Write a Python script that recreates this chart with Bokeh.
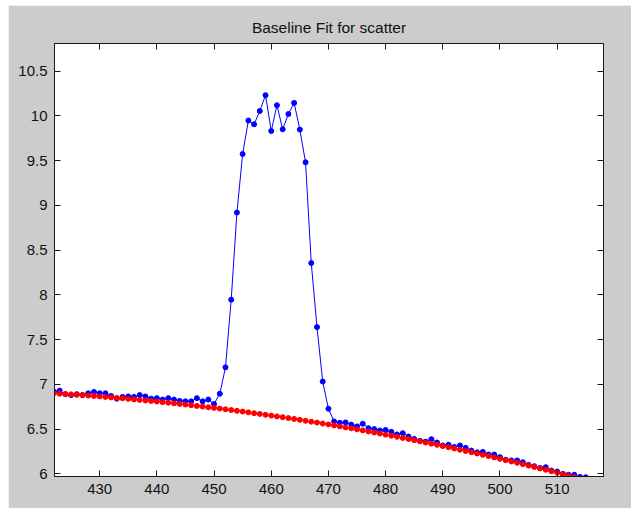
from bokeh.plotting import figure
from bokeh.models import LinearAxis, Range1d, FixedTicker, Title
from bokeh.embed import file_html
from bokeh.resources import INLINE

title_text = "Baseline Fit for scatter"

x_scatter = list(range(422, 516))
y_scatter = [
    6.92, 6.93, 6.89, 6.88, 6.89, 6.88, 6.90, 6.915, 6.90, 6.90,
    6.87, 6.84, 6.86, 6.865, 6.86, 6.88, 6.865, 6.84, 6.846, 6.83,
    6.846, 6.83, 6.815, 6.81, 6.81, 6.846, 6.81, 6.83, 6.78, 6.895,
    7.19, 7.946, 8.92, 9.575, 9.949, 9.907, 10.056, 10.232, 9.832, 10.12,
    9.851, 10.022, 10.146, 9.848, 9.482, 8.356, 7.64, 7.032, 6.727, 6.585,
    6.57, 6.575, 6.55, 6.53, 6.56, 6.51, 6.50, 6.485, 6.49, 6.47,
    6.44, 6.454, 6.417, 6.39, 6.37, 6.36, 6.387, 6.35, 6.317, 6.325,
    6.30, 6.317, 6.29, 6.26, 6.24, 6.245, 6.216, 6.216, 6.186, 6.157,
    6.15, 6.15, 6.13, 6.10, 6.085, 6.065, 6.074, 6.037, 6.025, 6.00,
    5.99, 5.99, 5.965, 5.962,
]

x_baseline = list(range(422, 515))
y_baseline = [
    6.900, 6.896, 6.892, 6.888, 6.883, 6.879, 6.874, 6.870, 6.865, 6.860,
    6.854, 6.849, 6.844, 6.838, 6.832, 6.826, 6.820, 6.814, 6.808, 6.801,
    6.795, 6.788, 6.781, 6.774, 6.767, 6.759, 6.752, 6.744, 6.737, 6.729,
    6.721, 6.713, 6.704, 6.696, 6.687, 6.678, 6.670, 6.660, 6.651, 6.642,
    6.633, 6.623, 6.613, 6.603, 6.593, 6.583, 6.573, 6.562, 6.552, 6.541,
    6.530, 6.519, 6.508, 6.497, 6.485, 6.474, 6.462, 6.450, 6.438, 6.426,
    6.414, 6.401, 6.389, 6.376, 6.363, 6.350, 6.337, 6.324, 6.310, 6.297,
    6.283, 6.269, 6.255, 6.241, 6.227, 6.212, 6.198, 6.183, 6.168, 6.153,
    6.138, 6.123, 6.108, 6.092, 6.076, 6.060, 6.045, 6.028, 6.012, 5.996,
    5.979, 5.963, 5.946,
]

x_ticks = [430, 440, 450, 460, 470, 480, 490, 500, 510]
x_tick_labels = ["430", "440", "450", "460", "470", "480", "490", "500", "510"]
y_ticks = [6, 6.5, 7, 7.5, 8, 8.5, 9, 9.5, 10, 10.5]
y_tick_labels = ["6", "6.5", "7", "7.5", "8", "8.5", "9", "9.5", "10", "10.5"]

FONT = "Liberation Sans"
AXC = "#1a1a1a"

p = figure(
    width=623, height=503, output_backend="svg", toolbar_location=None,
    x_range=Range1d(422.1, 518.1), y_range=Range1d(5.97, 10.81),
    min_border_left=46, min_border_right=28, min_border_top=38, min_border_bottom=32,
    x_axis_location=None, y_axis_location=None,
)
p.margin = (5, 0, 0, 8)
p.border_fill_color = "#cccccc"
p.background_fill_color = "white"
p.outline_line_color = AXC
p.outline_line_width = 1
p.grid.visible = False

def style_axis(ax, ticks, labels, show_labels):
    ax.ticker = FixedTicker(ticks=ticks)
    ax.major_label_overrides = {t: (l if show_labels else "") for t, l in zip(ticks, labels)}
    ax.major_tick_in = 6
    ax.major_tick_out = 0
    ax.minor_tick_line_color = None
    ax.axis_line_color = AXC
    ax.major_tick_line_color = AXC
    ax.major_label_text_font = FONT
    ax.major_label_text_color = "#111111"
    if show_labels:
        ax.major_label_text_font_size = "15px"
        ax.major_label_standoff = 7
    else:
        ax.major_label_text_font_size = "0px"
        ax.major_label_standoff = 0

xb = LinearAxis(); style_axis(xb, x_ticks, x_tick_labels, True); p.add_layout(xb, "below")
xa = LinearAxis(); style_axis(xa, x_ticks, x_tick_labels, False); p.add_layout(xa, "above")
yl = LinearAxis(); style_axis(yl, y_ticks, y_tick_labels, True); p.add_layout(yl, "left")
yr = LinearAxis(); style_axis(yr, y_ticks, y_tick_labels, False); p.add_layout(yr, "right")

t = Title(text=title_text, align="center", text_font=FONT, text_font_size="15.5px",
          text_font_style="normal", text_color="#111111", standoff=16)
p.add_layout(t, "above")

p.line(x_scatter, y_scatter, line_color="#0000ff", line_width=1)
p.scatter(x_scatter, y_scatter, marker="circle", size=5, color="#0000ff")
p.line(x_baseline, y_baseline, line_color="#ff0000", line_width=1)
p.scatter(x_baseline, y_baseline, marker="circle", size=5, color="#ff0000")

open("out.html", "w").write(file_html(p, INLINE))
